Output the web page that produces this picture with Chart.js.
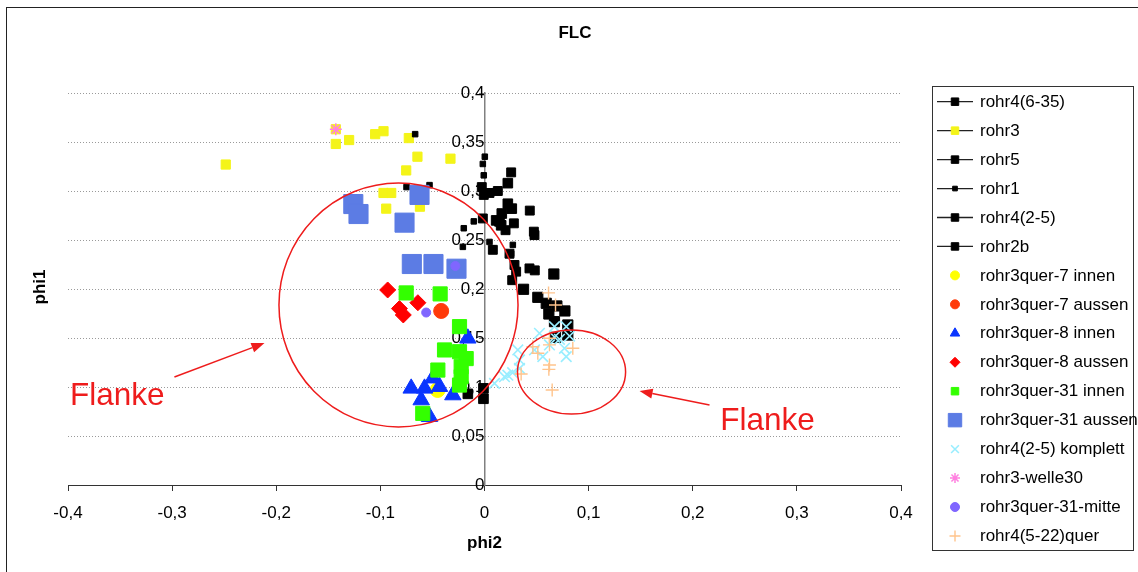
<!DOCTYPE html>
<html><head><meta charset="utf-8">
<script src="https://cdn.jsdelivr.net/npm/chart.js@4.4.1/dist/chart.umd.min.js"></script>
<style>html,body{margin:0;padding:0;background:#fff;overflow:hidden}</style>
</head><body>
<canvas id="c" width="1138" height="572"></canvas>
<script>
// ---- data (phi2, phi1) ----
const rohr4_6_35 = [[-0.001,0.0986],[-0.001,0.088],[-0.016,0.093],[0.0166,0.277],[0.0144,0.269],[0.0112,0.270],[0.016,0.265],[0.0262,0.282],[0.0224,0.287],[0.0224,0.308]];
const rohr3 = [[-0.2485,0.327],[-0.1428,0.348],[-0.1428,0.363],[-0.130,0.352],[-0.105,0.358],[-0.097,0.361],[-0.0727,0.354],[-0.0644,0.335],[-0.0327,0.333],[-0.0752,0.321],[-0.097,0.298],[-0.0896,0.298],[-0.0944,0.282],[-0.062,0.284]];
const rohr5 = [[0.0483,0.219],[0.0432,0.221],[0.0304,0.2177],[0.0288,0.2245],[0.0266,0.209],[0.024,0.236],[0.0474,0.2585],[0.048,0.255],[0.0435,0.280],[0.0282,0.267],[0.0202,0.260]];
const rohr1 = [[0.0003,0.335],[-0.0016,0.3276],[-0.0007,0.316],[-0.0666,0.358],[-0.0749,0.304],[-0.0528,0.306],[-0.0199,0.262],[-0.0208,0.243],[-0.0103,0.269],[0.0048,0.248],[0.0077,0.2415],[0.0272,0.245],[0.0256,0.236]];
const rohr4_2_5 = [[0.0672,0.1667],[0.080,0.1633],[0.0682,0.1507],[0.080,0.153],[0.0618,0.1745],[0.0772,0.1776],[0.0695,0.1827],[0.0593,0.1854],[0.0512,0.1915],[0.0375,0.1997],[0.0666,0.2153]];
const rohr2b = [[-0.0026,0.304],[-0.0007,0.296],[0.0048,0.298],[0.0128,0.300],[0.0256,0.319],[-0.0016,0.272],[0.008,0.24]];
const q7innen = [[-0.045,0.097]];
const q7aussen = [[-0.0416,0.1776]];
const q8innen = [[-0.0704,0.0986],[-0.0576,0.0986],[-0.0432,0.1003],[-0.0608,0.0867],[-0.0304,0.0918],[-0.0528,0.0697],[-0.016,0.1497],[-0.0496,0.109]];
const q8aussen = [[-0.093,0.199],[-0.064,0.186],[-0.0817,0.180],[-0.078,0.1735]];
const q31innen = [[-0.0752,0.196],[-0.0426,0.195],[-0.024,0.1616],[-0.0384,0.1378],[-0.024,0.136],[-0.0176,0.129],[-0.0224,0.1207],[-0.0448,0.1173],[-0.0224,0.1105],[-0.024,0.102],[-0.0593,0.0731]];
const q31aussen = [[-0.126,0.2867],[-0.121,0.2765],[-0.0624,0.296],[-0.0768,0.2677],[-0.0698,0.2255],[-0.049,0.2255],[-0.0269,0.2207]];
const komplett = [[0.0096,0.1037],[0.0192,0.1105],[0.0224,0.112],[0.027,0.1146],[0.0336,0.119],[0.0336,0.1276],[0.032,0.1378],[0.048,0.1378],[0.0528,0.1548],[0.056,0.131],[0.0624,0.1429],[0.0672,0.151],[0.0672,0.1616],[0.0785,0.1616],[0.0817,0.152],[0.072,0.1487],[0.0785,0.131],[0.0768,0.1395]];
const welle30 = [[-0.1428,0.363]];
const q31mitte = [[-0.028,0.2235],[-0.056,0.176]];
const quer5_22 = [[0.0615,0.196],[0.0682,0.1837],[0.0848,0.1395],[0.0624,0.143],[0.0464,0.141],[0.0512,0.1344],[0.0352,0.1133],[0.0624,0.1224],[0.0618,0.118],[0.065,0.097],[0.0624,0.1497]];

const xTickValues = [-0.4,-0.3,-0.2,-0.1,0,0.1,0.2,0.3,0.4];
const yTickValues = [0,0.05,0.1,0.15,0.2,0.25,0.3,0.35,0.4];

// ---- annotations (data units) ----
const ellipses = [{cx:-0.0826,cy:0.1837,rx:0.1148,ry:0.1245},{cx:0.0836,cy:0.1153,rx:0.0519,ry:0.0429}];
const arrows = [{x1:-0.2978,y1:0.1102,x2:-0.2113,y2:0.1449},{x1:0.2161,y1:0.0816,x2:0.1489,y2:0.0959}];
const notes = [{text:'Flanke',x:-0.4,y:0.0905},{text:'Flanke',x:0.2245,y:0.0645}];

// ---- styles ----
const series = [
 {label:'rohr4(6-35)', data:rohr4_6_35, style:'rect', r:6.8, color:'#000000', lr:5.3, line:true},
 {label:'rohr3', data:rohr3, style:'rect', r:6.5, color:'#f4f418', lr:5.3, line:true},
 {label:'rohr5', data:rohr5, style:'rect', r:6.3, color:'#000000', lr:5.3, line:true},
 {label:'rohr1', data:rohr1, style:'rect', r:3.9, color:'#000000', lr:3.3, line:true},
 {label:'rohr4(2-5)', data:rohr4_2_5, style:'rect', r:7.2, color:'#000000', lr:5.3, line:true},
 {label:'rohr2b', data:rohr2b, style:'rect', r:6.3, color:'#000000', lr:5.3, line:true},
 {label:'rohr3quer-7 innen', data:q7innen, style:'circle', r:7.5, color:'#ffff00', lr:4.5},
 {label:'rohr3quer-7 aussen', data:q7aussen, style:'circle', r:7.5, color:'#ff3a0a', lr:4.5},
 {label:'rohr3quer-8 innen', data:q8innen, style:'triangle', r:9.5, color:'#0a35ff', lr:5.5},
 {label:'rohr3quer-8 aussen', data:q8aussen, style:'rectRot', r:8, color:'#ff0000', lr:5},
 {label:'rohr3quer-31 innen', data:q31innen, style:'rect', r:10, color:'#33ff00', lr:5.3},
 {label:'rohr3quer-31 aussen', data:q31aussen, style:'rect', r:13.5, color:'#5c7ce4', lr:9.5},
 {label:'rohr4(2-5) komplett', data:komplett, style:'crossRot', r:7.5, color:'#99eeff', lr:5.5, bw:1.6},
 {label:'rohr3-welle30', data:welle30, style:'star', r:6, color:'#ff80e0', lr:5, bw:1.5},
 {label:'rohr3quer-31-mitte', data:q31mitte, style:'circle', r:4.5, color:'#8066ff', lr:4.5},
 {label:'rohr4(5-22)quer', data:quer5_22, style:'cross', r:6.5, color:'#ffc48c', lr:5.5, bw:1.4}
];

const FONT = '"Liberation Sans", Arial, sans-serif';
const RED = '#ee1c1c';
const fmt = v => String(Math.round(v*100)/100).replace('.', ',');

const datasets = series.map((s,i) => ({
  label: s.label,
  data: s.data.map(p => ({x:p[0], y:p[1]})),
  showLine: false,
  pointStyle: s.style,
  pointRadius: s.r,
  pointHoverRadius: s.r,
  backgroundColor: s.color,
  borderColor: s.color,
  pointBorderWidth: s.bw || 1,
  order: series.length - i
}));

const decor = {
  id: 'decor',
  afterDatasetsDraw(chart) {
    const {ctx, scales:{x, y}} = chart;
    ctx.save();
    ctx.strokeStyle = RED; ctx.fillStyle = RED; ctx.lineWidth = 1.5;
    ellipses.forEach(e => {
      const cx = x.getPixelForValue(e.cx), cy = y.getPixelForValue(e.cy);
      const rx = Math.abs(x.getPixelForValue(e.cx + e.rx) - cx);
      const ry = Math.abs(y.getPixelForValue(e.cy + e.ry) - cy);
      ctx.beginPath(); ctx.ellipse(cx, cy, rx, ry, 0, 0, Math.PI*2); ctx.stroke();
    });
    arrows.forEach(a => {
      const x1 = x.getPixelForValue(a.x1), y1 = y.getPixelForValue(a.y1);
      const x2 = x.getPixelForValue(a.x2), y2 = y.getPixelForValue(a.y2);
      const ang = Math.atan2(y2 - y1, x2 - x1), L = 13, W = 5;
      const bx = x2 - L*Math.cos(ang), by = y2 - L*Math.sin(ang);
      ctx.beginPath(); ctx.moveTo(x1, y1); ctx.lineTo(bx, by); ctx.stroke();
      ctx.beginPath(); ctx.moveTo(x2, y2);
      ctx.lineTo(bx + W*Math.sin(ang), by - W*Math.cos(ang));
      ctx.lineTo(bx - W*Math.sin(ang), by + W*Math.cos(ang));
      ctx.closePath(); ctx.fill();
    });
    ctx.font = '31.5px ' + FONT; ctx.textBaseline = 'middle'; ctx.textAlign = 'left';
    notes.forEach(n => ctx.fillText(n.text, x.getPixelForValue(n.x) + 2, y.getPixelForValue(n.y)));
    ctx.restore();
  },
  afterDraw(chart) {
    const {ctx, chartArea} = chart;
    ctx.save();
    // outer frame
    ctx.strokeStyle = '#222'; ctx.lineWidth = 1;
    ctx.strokeRect(6.5, 7.5, 1160, 600);
    // chart title
    ctx.fillStyle = '#000'; ctx.textAlign = 'center'; ctx.textBaseline = 'middle';
    ctx.font = 'bold 17px ' + FONT;
    ctx.fillText('FLC', 575, 33);
    // y axis title
    ctx.save(); ctx.translate(40, (chartArea.top + chartArea.bottom)/2 - 2); ctx.rotate(-Math.PI/2);
    ctx.fillText('phi1', 0, 0); ctx.restore();
    // legend
    const box = {l:932.5, t:86.5, r:1133.5, b:550.5};
    ctx.strokeStyle = '#333'; ctx.lineWidth = 1;
    ctx.strokeRect(box.l, box.t, box.r - box.l, box.b - box.t);
    ctx.font = '17px ' + FONT; ctx.textAlign = 'left'; ctx.textBaseline = 'middle';
    series.forEach((s, i) => {
      const yy = 101.7 + i*28.95;
      if (s.line) {
        ctx.strokeStyle = '#222'; ctx.lineWidth = 1.3;
        ctx.beginPath(); ctx.moveTo(937, yy); ctx.lineTo(973, yy); ctx.stroke();
      }
      ctx.fillStyle = s.color; ctx.strokeStyle = s.color; ctx.lineWidth = s.bw || 1;
      Chart.helpers.drawPoint(ctx, {pointStyle: s.style, radius: s.lr, borderWidth: s.bw || 1, rotation: 0}, 955, yy);
      ctx.fillStyle = '#000';
      ctx.fillText(s.label, 980, yy + 0.5);
    });
    ctx.restore();
  }
};

new Chart(document.getElementById('c'), {
  type: 'scatter',
  data: {datasets},
  plugins: [decor],
  options: {
    responsive: false, animation: false, devicePixelRatio: 1,
    layout: {padding: {left: 68, right: 237, top: 93, bottom: 0}},
    plugins: {legend: {display: false}, tooltip: {enabled: false}, title: {display: false}},
    scales: {
      x: {
        type: 'linear', position: 'bottom', min: -0.4, max: 0.4,
        afterBuildTicks: s => { s.ticks = xTickValues.map(v => ({value: v})); },
        afterFit: s => { s.height = 87; },
        ticks: {callback: v => fmt(v), color: '#000', font: {family: FONT, size: 17}, padding: 12, maxRotation: 0, autoSkip: false},
        grid: {drawOnChartArea: false, drawTicks: true, tickLength: 6, tickColor: '#333', color: '#333'},
        border: {display: true, color: '#333', width: 1},
        title: {display: true, text: 'phi2', color: '#000', font: {family: FONT, size: 17, weight: 'bold'}, padding: {top: 0, bottom: 18}}
      },
      y: {
        type: 'linear', position: {x: 0}, min: 0, max: 0.4,
        afterBuildTicks: s => { s.ticks = yTickValues.map(v => ({value: v})); },
        ticks: {callback: v => fmt(v), color: '#000', font: {family: FONT, size: 17}, padding: 5, autoSkip: false},
        grid: {drawOnChartArea: true, drawTicks: true, tickLength: 5, tickColor: '#777', tickBorderDash: [],
               color: c => (c.tick && c.tick.value === 0) ? 'rgba(0,0,0,0)' : '#9a9a9a', lineWidth: 1},
        border: {display: true, color: '#808080', width: 1.5, dash: [1, 2]},
        title: {display: false}
      }
    }
  }
});
</script>
</body></html>
